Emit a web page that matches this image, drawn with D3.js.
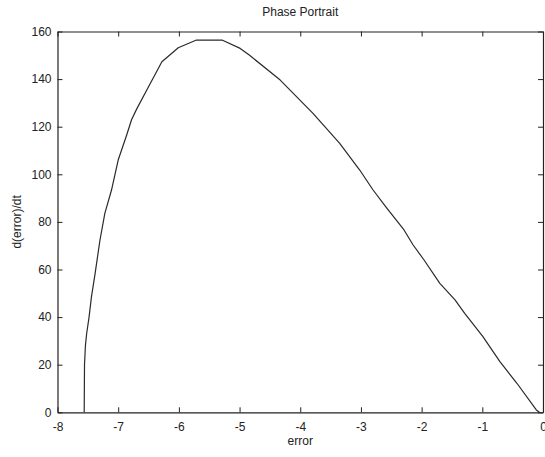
<!DOCTYPE html>
<html>
<head>
<meta charset="utf-8">
<script src="https://cdn.jsdelivr.net/npm/d3@7"></script>
<style>
  body { margin: 0; background: #fff; }
  text { font-family: "Liberation Sans", Arial, sans-serif; fill: #222; }
</style>
</head>
<body>
<div id="chart"></div>
<script>
// phase portrait trace
const errorVals = [-7.56, -7.555, -7.54, -7.52, -7.48, -7.44, -7.38, -7.30, -7.22, -7.11, -7.00, -6.86, -6.78,
    -6.69, -6.50, -6.28, -6.01, -5.71, -5.29, -4.99, -4.84, -4.33, -3.79, -3.35, -3.02, -2.80, -2.58,
    -2.30, -2.14, -1.96, -1.70, -1.45, -1.29, -0.99, -0.71, -0.43, -0.11, -0.06];
const dErrorVals = [0, 20, 28, 33, 40, 48.6, 58.4, 72.4, 83.6, 93.4, 106, 116.5, 122.9,
    127.7, 136.8, 147.3, 153.2, 156.4, 156.4, 152.9, 150.1, 139.6, 125.6, 113.0, 101.8, 93.4, 86.0,
    77.0, 70.3, 64.0, 54.2, 47.2, 41.6, 31.8, 21.3, 12.2, 1, 0];
const xTicks = [-8, -7, -6, -5, -4, -3, -2, -1, 0];
const yTicks = [0, 20, 40, 60, 80, 100, 120, 140, 160];

const W = 545, H = 457;
const margin = {top: 31.5, right: 2, bottom: 44.7, left: 57.5};
const width = W - margin.left - margin.right;
const height = H - margin.top - margin.bottom;

const svg = d3.select("#chart").append("svg")
    .attr("width", W)
    .attr("height", H);
const g = svg.append("g")
    .attr("transform", `translate(${margin.left},${margin.top})`);

const x = d3.scaleLinear().domain([-8, 0]).range([0, width]);
const y = d3.scaleLinear().domain([0, 160]).range([height, 0]);

const tickLen = 5;
// box axes, ticks pointing inward like matlab
const xb = g.append("g")
    .attr("transform", `translate(0,${height})`)
    .call(d3.axisBottom(x).tickValues(xTicks).tickSizeInner(-tickLen).tickSizeOuter(0).tickPadding(10)
        .tickFormat(d => String(d)));
const xt = g.append("g")
    .call(d3.axisTop(x).tickValues(xTicks).tickSizeInner(-tickLen).tickSizeOuter(0).tickFormat(""));
const yl = g.append("g")
    .call(d3.axisLeft(y).tickValues(yTicks).tickSizeInner(-tickLen).tickSizeOuter(0).tickPadding(6));
const yr = g.append("g")
    .attr("transform", `translate(${width},0)`)
    .call(d3.axisRight(y).tickValues(yTicks).tickSizeInner(-tickLen).tickSizeOuter(0).tickFormat(""));

[xb, xt, yl, yr].forEach(a => {
    a.selectAll("path.domain").attr("stroke", "#222").attr("stroke-width", 1.2);
    a.selectAll(".tick line").attr("stroke", "#222");
    a.selectAll(".tick text").style("font-size", "12px").attr("fill", "#222");
});

// the trace
g.append("path")
    .datum(errorVals.map((e, i) => [e, dErrorVals[i]]))
    .attr("fill", "none")
    .attr("stroke", "#2a2a2a")
    .attr("stroke-width", 1.2)
    .attr("stroke-linejoin", "round")
    .attr("d", d3.line().x(d => x(d[0])).y(d => y(d[1])));

// labels
svg.append("text")
    .attr("x", margin.left + width / 2)
    .attr("y", 16)
    .attr("text-anchor", "middle")
    .style("font-size", "12px")
    .text("Phase Portrait");

svg.append("text")
    .attr("x", margin.left + width / 2)
    .attr("y", 445)
    .attr("text-anchor", "middle")
    .style("font-size", "12px")
    .text("error");

svg.append("text")
    .attr("transform", `translate(21,${margin.top + height / 2}) rotate(-90)`)
    .attr("text-anchor", "middle")
    .style("font-size", "12px")
    .text("d(error)/dt");
</script>
</body>
</html>
